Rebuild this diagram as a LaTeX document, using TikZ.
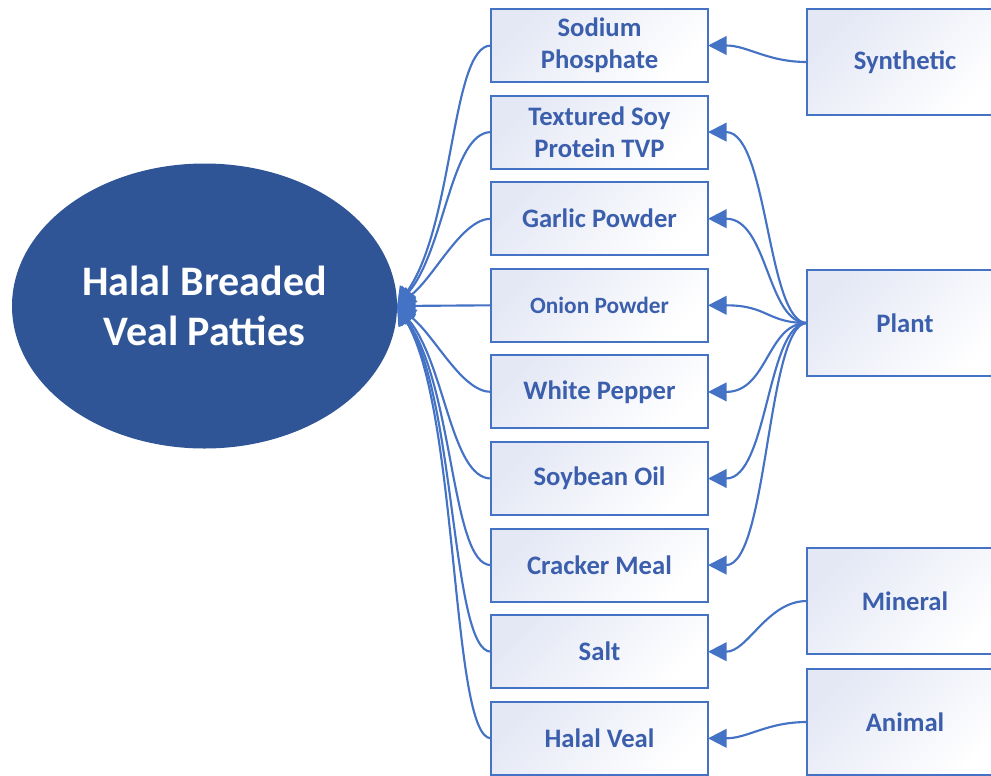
\documentclass[tikz,border=0pt]{standalone}
\usepackage{fontspec}
\setmainfont{Carlito}
\usetikzlibrary{positioning,arrows.meta,shapes.geometric}
\definecolor{dishblue}{HTML}{2F5597}
\definecolor{edgeblue}{HTML}{4472C4}
\definecolor{labelblue}{HTML}{3B5FAC}
\definecolor{boxtint}{HTML}{E4E8F5}

\begin{document}
\begin{tikzpicture}[
  x=0.75pt, y=0.75pt,
  node distance=10.2pt,
  dish/.style={ellipse, fill=dishblue, minimum width=288.75pt, minimum height=213.75pt, inner sep=0pt, outer sep=0pt, text=white, font=\fontsize{31.5}{37.5}\selectfont\bfseries, align=center},
  item/.style={rectangle, draw=edgeblue, line width=1.5pt, top color=boxtint, bottom color=white, shading angle=45, minimum width=162.75pt, minimum height=54.75pt, inner sep=2pt, outer sep=0pt, text=labelblue, font=\fontsize{20}{24}\selectfont\bfseries, align=center},
  source/.style={item, minimum width=147pt, minimum height=79.5pt},
  feed/.style={-{Triangle[length=14pt, width=14pt]}, draw=edgeblue, line width=1.6pt}
]
  \path[use as bounding box, clip] (0,0) rectangle (991,-775);

  % Product
  \node[dish] (patties) at (204.5,-306) {Halal Breaded\\Veal Patties};

  % Ingredients
  \node[item] (sodium) at (599.5,-45.5) {Sodium\\Phosphate};
  \node[item, below=of sodium] (tvp) {Textured Soy\\Protein TVP};
  \node[item, below=of tvp] (garlic) {Garlic Powder};
  \node[item, below=of garlic, font=\fontsize{17.5}{21}\selectfont\bfseries] (onion) {Onion Powder};
  \node[item, below=of onion] (pepper) {White Pepper};
  \node[item, below=of pepper] (soyoil) {Soybean Oil};
  \node[item, below=of soyoil] (cracker) {Cracker Meal};
  \node[item, below=of cracker] (salt) {Salt};
  \node[item, below=of salt] (veal) {Halal Veal};

  % Sources
  \node[source] (synthetic) at (905,-62) {Synthetic};
  \node[source] (plant) at (905,-323) {Plant};
  \node[source] (mineral) at (905,-601) {Mineral};
  \node[source] (animal) at (905,-722) {Animal};

  % Ingredients into product
  \draw[feed] (sodium.west) to[out=180, in=55, out distance=30pt, in distance=75pt] (patties.east);
  \draw[feed] (tvp.west) to[out=180, in=50, out distance=30pt, in distance=56pt] (patties.east);
  \draw[feed] (garlic.west) to[out=180, in=38, out distance=22pt, in distance=36pt] (patties.east);
  \draw[feed] (onion.west) -- (patties.east);
  \draw[feed] (pepper.west) to[out=180, in=-38, out distance=22pt, in distance=36pt] (patties.east);
  \draw[feed] (soyoil.west) to[out=180, in=-50, out distance=30pt, in distance=56pt] (patties.east);
  \draw[feed] (cracker.west) to[out=180, in=-55, out distance=30pt, in distance=75pt] (patties.east);
  \draw[feed] (salt.west) to[out=180, in=-57, out distance=30pt, in distance=82pt] (patties.east);
  \draw[feed] (veal.west) to[out=180, in=-59, out distance=30pt, in distance=90pt] (patties.east);

  % Sources into ingredients
  \draw[feed] (synthetic.west) to[out=180, in=0, out distance=30pt, in distance=30pt] (sodium.east);
  \draw[feed] (plant.west) to[out=180, in=0, out distance=30pt, in distance=45pt] (tvp.east);
  \draw[feed] (plant.west) to[out=180, in=0, out distance=30pt, in distance=45pt] (garlic.east);
  \draw[feed] (plant.west) to[out=180, in=0, out distance=30pt, in distance=45pt] (onion.east);
  \draw[feed] (plant.west) to[out=180, in=0, out distance=30pt, in distance=45pt] (pepper.east);
  \draw[feed] (plant.west) to[out=180, in=0, out distance=30pt, in distance=45pt] (soyoil.east);
  \draw[feed] (plant.west) to[out=180, in=0, out distance=30pt, in distance=45pt] (cracker.east);
  \draw[feed] (mineral.west) to[out=180, in=0, out distance=30pt, in distance=30pt] (salt.east);
  \draw[feed] (animal.west) to[out=180, in=0, out distance=30pt, in distance=30pt] (veal.east);
\end{tikzpicture}
\end{document}
